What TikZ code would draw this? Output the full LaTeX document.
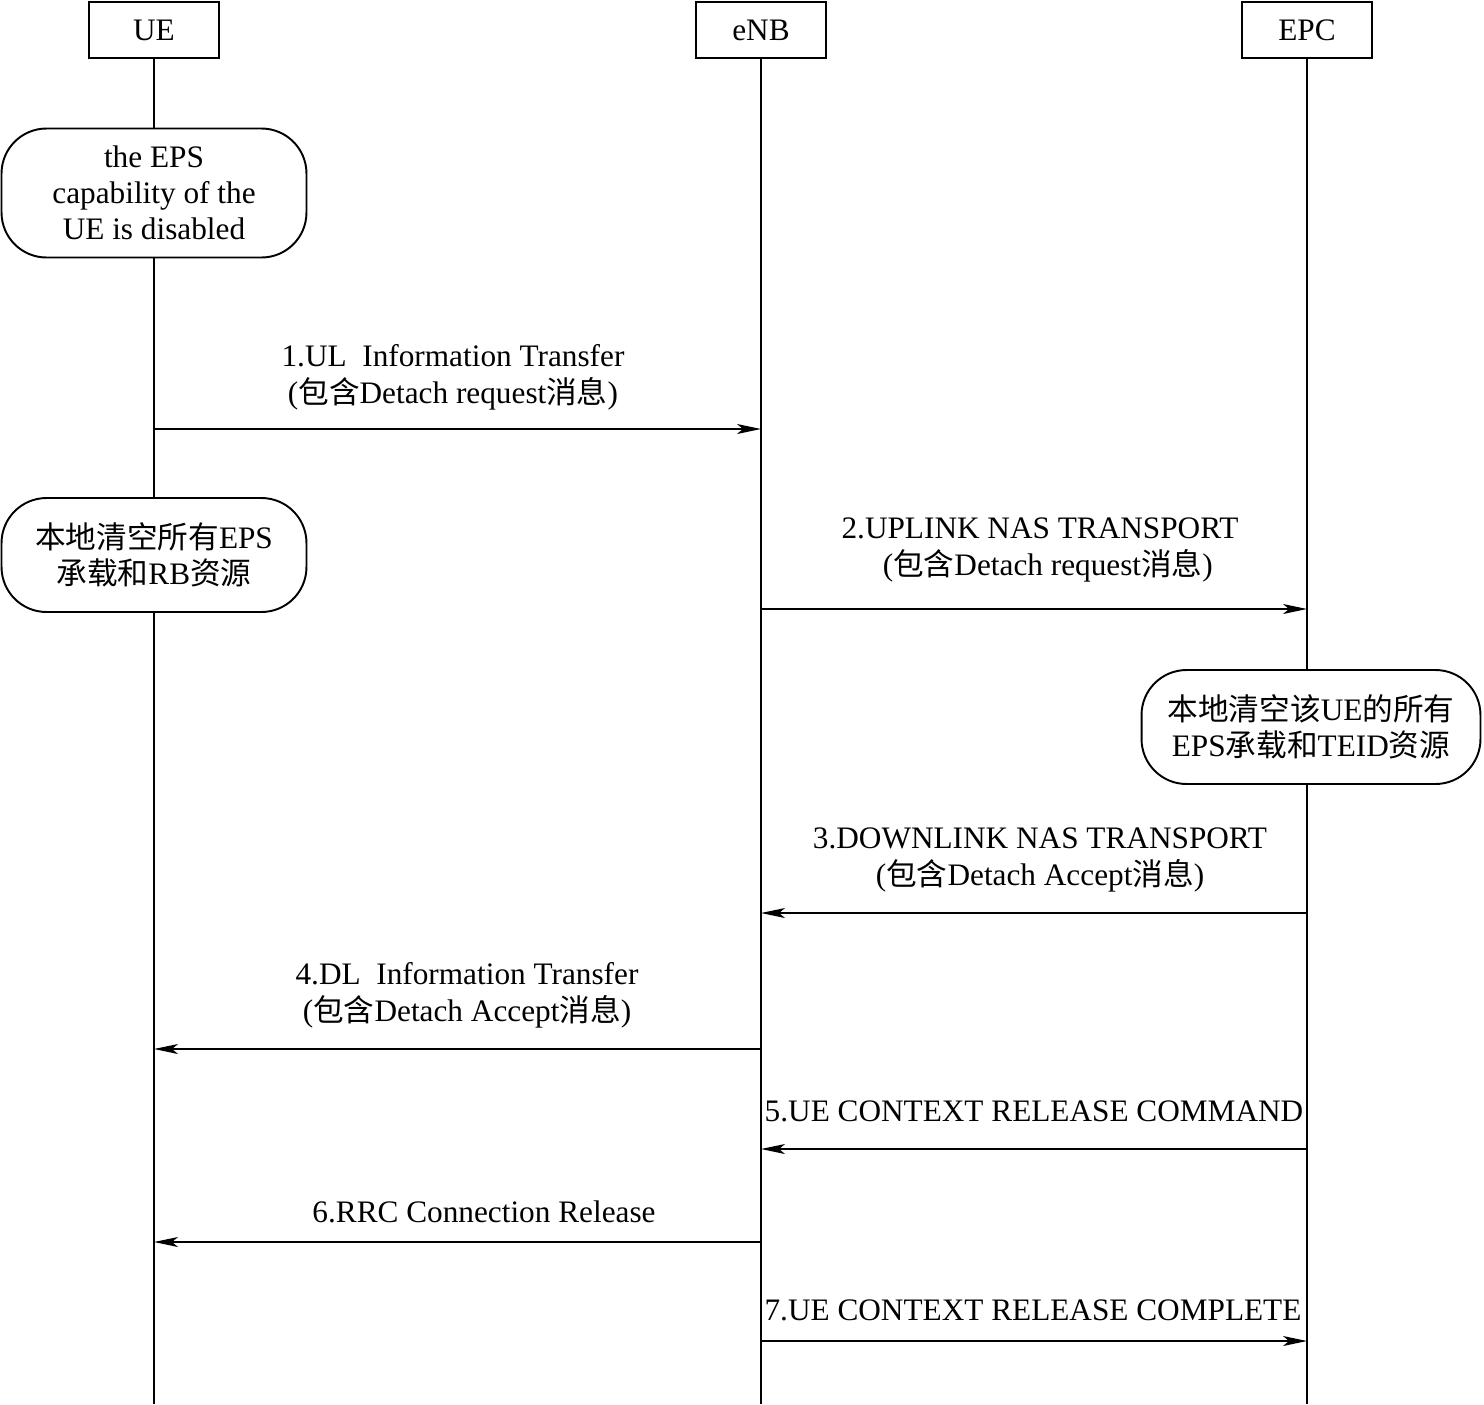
\documentclass[tikz,border=0pt]{standalone}
\usepackage{fontspec}
\setmainfont{Liberation Serif}
\newfontfamily\cjk{Noto Sans CJK SC}[Scale=0.98]
\usetikzlibrary{positioning, arrows.meta}
\newcommand{\zh}[1]{{\cjk #1}}

\begin{document}
\begin{tikzpicture}[
            x=0.02cm, y=-0.02cm,
            >={Stealth[length=0.48cm, width=0.2cm, inset=0.12cm]},
            % Styles
            head/.style={rectangle, draw, line width=1.1pt, minimum height=1.12cm,
                    minimum width=2.6cm, font=\fontsize{17.8pt}{20.5pt}\selectfont},
            note/.style={rectangle, draw, line width=1.1pt, rounded corners=0.9cm,
                    fill=white, align=center, inner sep=0pt,
                    font=\fontsize{17.8pt}{20.5pt}\selectfont},
            lbl/.style={align=center, inner sep=0pt,
                    font=\fontsize{17.8pt}{21pt}\selectfont},
            life/.style={line width=1.1pt},
            msg/.style={->, line width=0.8pt},
        ]
            \useasboundingbox (0,0) rectangle (1484,1404);

            % === LIFELINE HEADS ===
            \node[head] (ue) at (154,30) {UE};
            \node[head] (enb) at (761,30) {eNB};
            \node[head] (epc) at (1307,30) {EPC};
            \coordinate (ue-end) at (154,1404);
            \coordinate (enb-end) at (761,1404);
            \coordinate (epc-end) at (1307,1404);

            % === LIFELINES ===
            \draw[life] (ue.south) -- (ue-end);
            \draw[life] (enb.south) -- (enb-end);
            \draw[life] (epc.south) -- (epc-end);

            % === LOCAL ACTIONS ===
            \node[note, minimum width=6.1cm, minimum height=2.58cm] (disabled) at (154,193)
                {the EPS\\capability of the\\UE is disabled};
            \node[note, minimum width=6.1cm, minimum height=2.28cm] (uerel) at (154,555)
                {\zh{本地清空所有}EPS\\\zh{承载和}RB\zh{资源}};
            \node[note, minimum width=6.78cm, minimum height=2.28cm] (epcrel) at (1311,727)
                {\zh{本地清空该}UE\zh{的所有}\\EPS\zh{承载和}TEID\zh{资源}};

            % === MESSAGES ===
            % 1. UE -> eNB
            \draw[msg] (ue |- 0,429) -- (enb |- 0,429);
            \node[lbl] (m1) at (453,377) {1.UL\ \ Information Transfer\\(\zh{包含}Detach request\zh{消息})};
            % 2. eNB -> EPC
            \draw[msg] (enb |- 0,609) -- (epc |- 0,609);
            \node[lbl] (m2) at (1040,550) {2.UPLINK NAS TRANSPORT\\\ \ (\zh{包含}Detach request\zh{消息})};
            % 3. EPC -> eNB
            \draw[msg] (epc |- 0,913) -- (enb |- 0,913);
            \node[lbl] (m3) at (1040,860) {3.DOWNLINK NAS TRANSPORT\\(\zh{包含}Detach Accept\zh{消息})};
            % 4. eNB -> UE
            \draw[msg] (enb |- 0,1049) -- (ue |- 0,1049);
            \node[lbl] (m4) at (467,995) {4.DL\ \ Information Transfer\\(\zh{包含}Detach Accept\zh{消息})};
            % 5. EPC -> eNB
            \draw[msg] (epc |- 0,1149) -- (enb |- 0,1149);
            \node[lbl] (m5) at (1034,1111) {5.UE CONTEXT RELEASE COMMAND};
            % 6. eNB -> UE
            \draw[msg] (enb |- 0,1242) -- (ue |- 0,1242);
            \node[lbl] (m6) at (484,1212) {6.RRC Connection Release};
            % 7. eNB -> EPC
            \draw[msg] (enb |- 0,1341) -- (epc |- 0,1341);
            \node[lbl] (m7) at (1033,1310) {7.UE CONTEXT RELEASE COMPLETE};

        \end{tikzpicture}
\end{document}
